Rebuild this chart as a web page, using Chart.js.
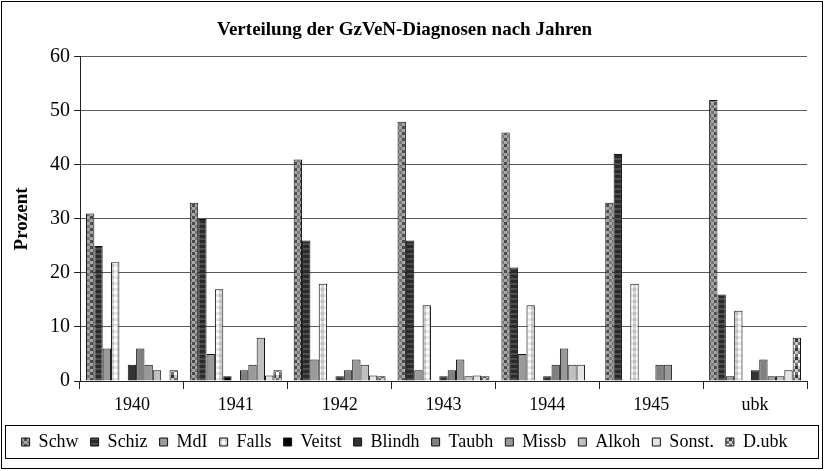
<!DOCTYPE html>
<html>
<head>
<meta charset="utf-8">
<script src="https://cdn.jsdelivr.net/npm/chart.js@4.4.1/dist/chart.umd.min.js"></script>
<style>
html, body { margin: 0; padding: 0; background: #fff; }
#wrap { width: 825px; height: 471px; position: relative; }
</style>
</head>
<body>
<div id="wrap"><canvas id="chartDiagnosen"></canvas></div>
<script>
const jahre = ['1940', '1941', '1942', '1943', '1944', '1945', 'ubk'];
const schw   = [31, 33, 41, 48, 46, 33, 52];
const schiz  = [25, 30, 26, 26, 21, 42, 16];
const mdi    = [6, 5, 4, 2, 5, 0, 0.9];
const falls  = [22, 17, 18, 14, 14, 18, 13];
const veitst = [0, 0.9, 0, 0, 0, 0, 0];
const blindh = [3, 0, 0.9, 0.9, 0.9, 0, 2];
const taubh  = [6, 2, 2, 2, 3, 3, 4];
const missb  = [3, 3, 4, 4, 6, 3, 0.9];
const alkoh  = [2, 8, 3, 0.9, 3, 0, 0.9];
const sonst  = [0, 1, 1, 1, 3, 0, 2];
const dubk   = [2, 2, 0.9, 0.9, 0, 0, 8];
const yTicks = [0, 10, 20, 30, 40, 50, 60];

const schrift = "'Liberation Serif', 'Times New Roman', serif";

// kleine Kachelmuster wie in der Excel-Vorlage
function muster(farben, zelle) {
    const c = document.createElement('canvas');
    c.width = farben[0].length * zelle;
    c.height = farben.length * zelle;
    const g = c.getContext('2d');
    farben.forEach((reihe, i) => reihe.forEach((f, j) => {
        g.fillStyle = f;
        g.fillRect(j * zelle, i * zelle, zelle, zelle);
    }));
    return g.createPattern(c, 'repeat');
}

const ctx = document.getElementById('chartDiagnosen').getContext('2d');

const fuellung = {
    schw: muster([['#4a4a4a', '#a6a6a6'], ['#a6a6a6', '#787878']], 3),
    schiz: muster([['#2a2a2a'], ['#2a2a2a'], ['#2a2a2a'], ['#4e4e4e'], ['#4e4e4e']], 1),
    falls: muster([['#e6e6e6', '#c0c0c0'], ['#ffffff', '#d6d6d6']], 3),
    dubk: muster([['#707070', '#c8c8c8'], ['#ffffff', '#707070'], ['#c8c8c8', '#3a3a3a']], 3),
};

function serie(label, data, farbe) {
    return {
        label: label,
        data: data,
        backgroundColor: farbe,
        borderColor: '#111',
        borderWidth: 1,
        borderSkipped: 'bottom',
    };
}

const rahmen = {
    id: 'rahmen',
    afterDraw(chart) {
        const c = chart.ctx;
        c.save();
        c.strokeStyle = '#000';
        c.lineWidth = 1;
        c.strokeRect(1.5, 1.5, chart.width - 4, chart.height - 4);
        const boxes = chart.legend.legendHitBoxes;
        if (boxes && boxes.length) {
            const oben = Math.min(...boxes.map(b => b.top));
            const unten = Math.max(...boxes.map(b => b.top + b.height));
            c.strokeRect(5.5, Math.round(oben) - 7.5, chart.width - 12, unten - oben + 15);
        }
        c.restore();
    },
};

new Chart(ctx, {
    type: 'bar',
    data: {
        labels: jahre,
        datasets: [
            serie('Schw', schw, fuellung.schw),
            serie('Schiz', schiz, fuellung.schiz),
            serie('MdI', mdi, '#9a9a9a'),
            serie('Falls', falls, fuellung.falls),
            serie('Veitst', veitst, '#000000'),
            serie('Blindh', blindh, '#333333'),
            serie('Taubh', taubh, '#808080'),
            serie('Missb', missb, '#999999'),
            serie('Alkoh', alkoh, '#c0c0c0'),
            serie('Sonst.', sonst, '#e4e4e4'),
            serie('D.ubk', dubk, fuellung.dubk),
        ],
    },
    options: {
        responsive: true,
        maintainAspectRatio: false,
        animation: false,
        datasets: { bar: { categoryPercentage: 0.885, barPercentage: 1.0 } },
        layout: { padding: { left: 2, right: 18, top: 0, bottom: 10 } },
        plugins: {
            title: {
                display: true,
                text: 'Verteilung der GzVeN-Diagnosen nach Jahren',
                color: '#000',
                font: { family: schrift, size: 19, weight: 'bold' },
                padding: { top: 19, bottom: 15 },
            },
            legend: {
                position: 'bottom',
                labels: {
                    color: '#000',
                    font: { family: schrift, size: 18 },
                    boxWidth: 8,
                    boxHeight: 8,
                    padding: 12,
                },
            },
            tooltip: { enabled: false },
        },
        scales: {
            x: {
                grid: {
                    offset: true,
                    drawOnChartArea: false,
                    drawTicks: true,
                    tickLength: 8,
                    color: '#222',
                },
                border: { color: '#222', width: 1 },
                ticks: {
                    color: '#000',
                    font: { family: schrift, size: 18, lineHeight: 1.0 },
                    padding: 7,
                    maxRotation: 0,
                },
            },
            y: {
                min: 0,
                max: 60,
                afterBuildTicks: (axis) => { axis.ticks = yTicks.map(v => ({ value: v })); },
                afterFit: (axis) => { axis.width = 78; },
                grid: {
                    color: '#5a5a5a',
                    tickLength: 6,
                    tickColor: '#222',
                },
                border: { color: '#222', width: 1 },
                ticks: {
                    color: '#000',
                    font: { family: schrift, size: 20 },
                    padding: 4,
                },
                title: {
                    display: true,
                    text: 'Prozent',
                    color: '#000',
                    font: { family: schrift, size: 19, weight: 'bold' },
                    padding: { top: 9, bottom: 0 },
                },
            },
        },
    },
    plugins: [rahmen],
});
</script>
</body>
</html>
